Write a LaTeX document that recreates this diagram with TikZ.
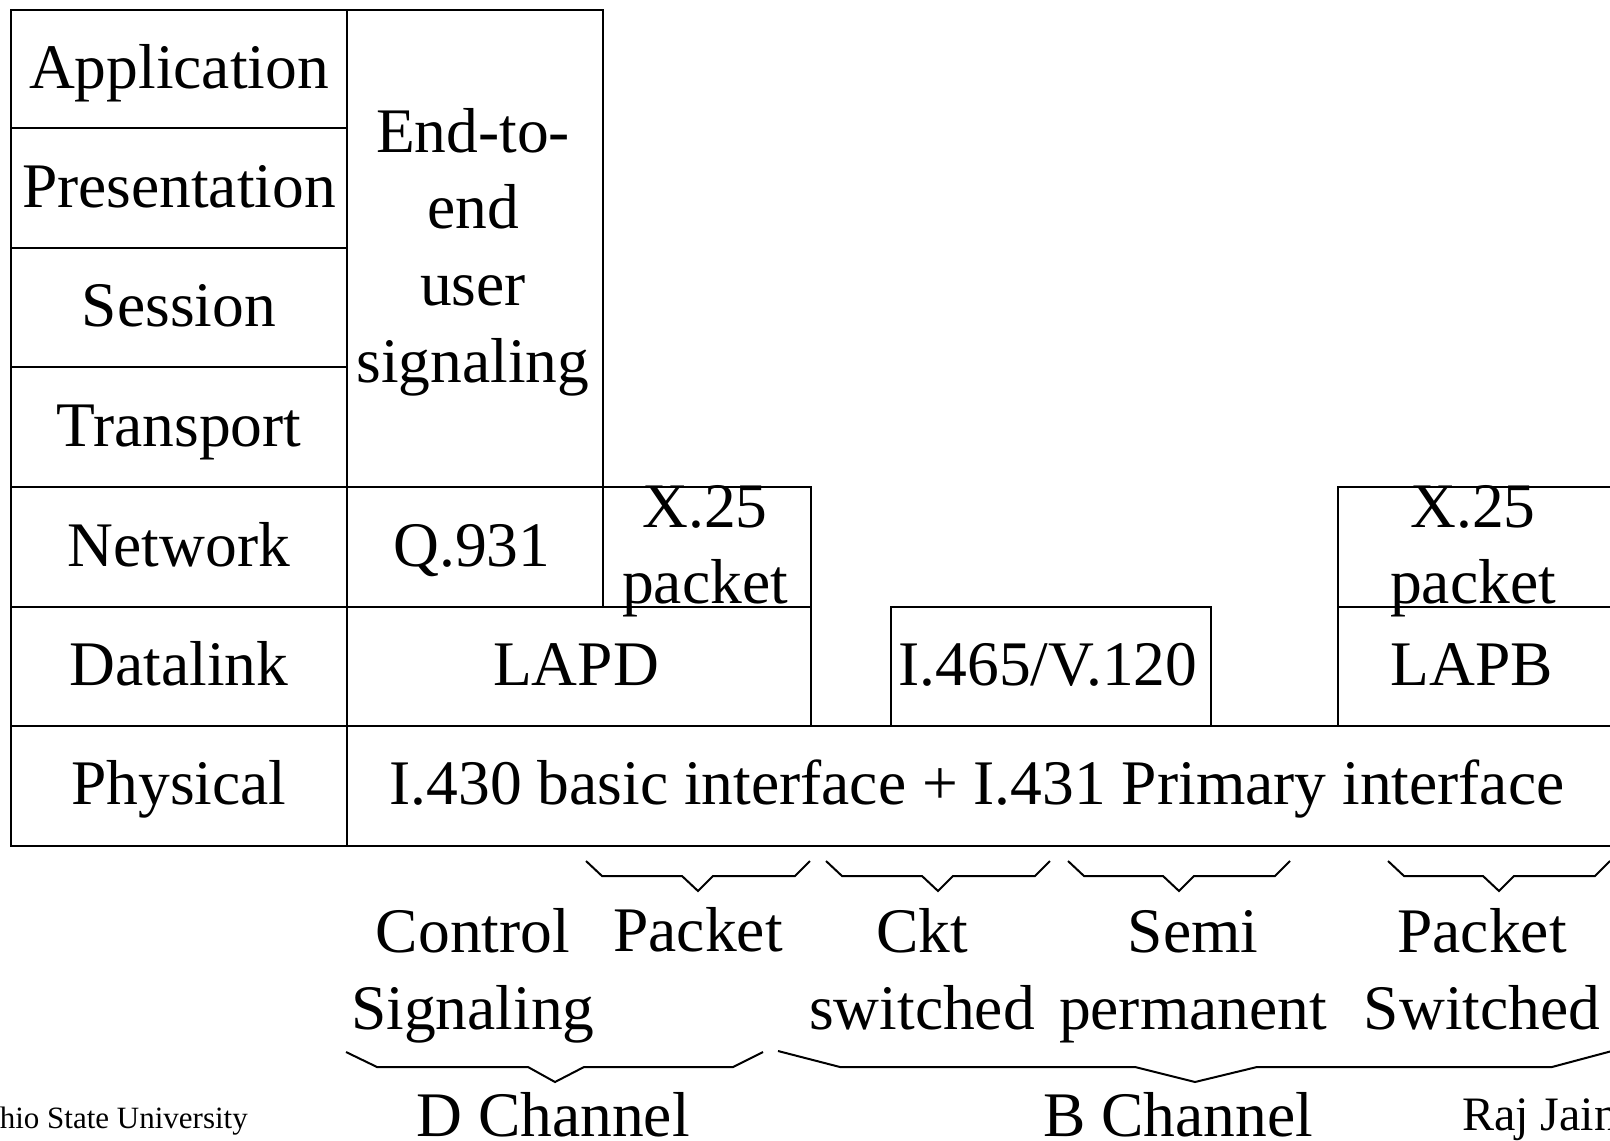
\documentclass[tikz,border=0pt]{standalone}
\usepackage{fontspec}
\setmainfont{Liberation Serif}
\newcommand\lblfont{\fontsize{63.5}{77}\selectfont}
\newcommand\ohiofont{\fontsize{31}{36}\selectfont}
\newcommand\rajfont{\fontsize{48}{56}\selectfont}
\begin{document}
\begin{tikzpicture}[x=1pt,y=-1pt,
  cell/.style={draw=black, line width=2.2pt},
  lbl/.style={anchor=base, inner sep=0pt, font=\lblfont},
  bracepath/.style={draw=black, line width=2pt, line join=miter}]
\useasboundingbox (0,0) rectangle (1610,1141);
\begin{scope}
\clip (0,0) rectangle (1610,1141);
% OSI column
\draw[cell] (11,10) rectangle (347,846);
\foreach \yy in {128,248,367,487,607,726} \draw[cell] (11,\yy) -- (347,\yy);
% ISDN stack
\draw[cell] (347,10) rectangle (603,487);
\draw[cell] (347,487) rectangle (603,607);
\draw[cell] (603,487) rectangle (811,607);
\draw[cell] (347,607) rectangle (811,726);
\draw[cell] (891,607) rectangle (1211,726);
\draw[cell] (1338,487) rectangle (1650,607);
\draw[cell] (1338,607) rectangle (1650,726);
\draw[cell] (347,726) rectangle (1650,846);
% OSI labels
\node[lbl] (app) at (179,88) {Application};
\node[lbl] (pres) at (179,207) {Presentation};
\node[lbl] (sess) at (179,326) {Session};
\node[lbl] (trans) at (179,446) {Transport};
\node[lbl] (net) at (179,566) {Network};
\node[lbl] (dl) at (179,685) {Datalink};
\node[lbl] (phy) at (179,804) {Physical};
% stack labels
\node[lbl] (e2ea) at (473,152) {End-to-};
\node[lbl] (e2eb) at (473,228) {end};
\node[lbl] (e2ec) at (473,305) {user};
\node[lbl] (e2ed) at (473,382) {signaling};
\node[lbl] (q931) at (472,566) {Q.931};
\node[lbl] (xa) at (705,527) {X.25};
\node[lbl] (xb) at (705,603) {packet};
\node[lbl] (lapd) at (576,685) {LAPD};
\node[lbl] (i465) at (1048,685) {I.465/V.120};
\node[lbl] (xra) at (1473,527) {X.25};
\node[lbl] (xrb) at (1473,603) {packet};
\node[lbl] (lapb) at (1472,685) {LAPB};
\node[lbl] (i430) at (977,804) {I.430 basic interface + I.431 Primary interface};
% small braces
\foreach \L/\R in {586/810, 826/1050, 1068/1290, 1388/1610}{
  \pgfmathsetmacro\C{(\L+\R)/2}
  \draw[bracepath] (\L,861) -- (\L+16,876) -- (\C-16,876) -- (\C,891) -- (\C+15,876) -- (\R-15,876) -- (\R,861);
}
% bottom labels
\node[lbl] (ctla) at (473,952) {Control};
\node[lbl] (ctlb) at (473,1029) {Signaling};
\node[lbl] (pkt1) at (698,951) {Packet};
\node[lbl] (ckta) at (922,952) {Ckt};
\node[lbl] (cktb) at (922,1029) {switched};
\node[lbl] (semia) at (1193,952) {Semi};
\node[lbl] (semib) at (1193,1029) {permanent};
\node[lbl] (pswa) at (1482,952) {Packet};
\node[lbl] (pswb) at (1482,1029) {Switched};
% large braces
\draw[bracepath] (346,1052) -- (377,1067) -- (528,1067) -- (555,1082) -- (584,1067) -- (733,1067) -- (763,1052);
\draw[bracepath] (778,1051) -- (840,1067) -- (1135,1067) -- (1195,1082) -- (1257,1067) -- (1552,1067) -- (1612,1051);
\node[lbl] (dch) at (553,1136) {D Channel};
\node[lbl] (bch) at (1178,1136) {B Channel};
% footer
\node[anchor=base east, inner sep=0pt, font=\ohiofont] (osu) at (248,1128) {Ohio State University};
\node[anchor=base west, inner sep=0pt, font=\rajfont] (raj) at (1462,1130) {Raj Jain};
\end{scope}
\end{tikzpicture}
\end{document}
